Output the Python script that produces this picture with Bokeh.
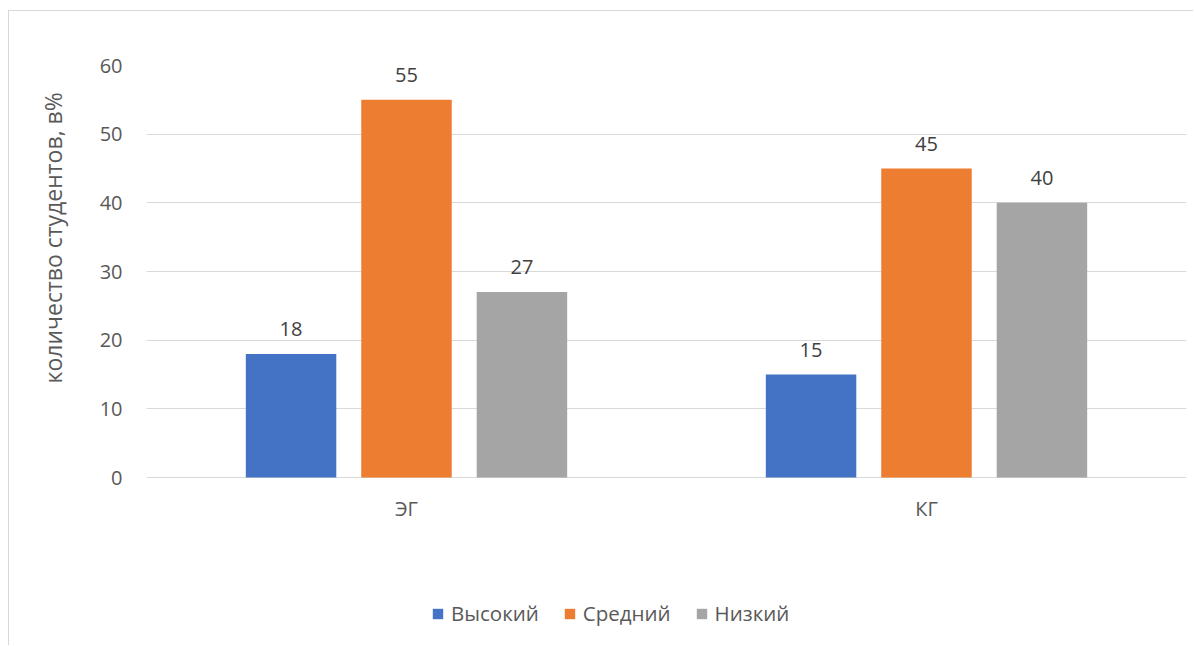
from bokeh.plotting import figure
from bokeh.models import (FactorRange, ColumnDataSource, Legend, LegendItem, LabelSet,
                          FixedTicker, Title)
from bokeh.core.properties import value
from bokeh.transform import dodge
from bokeh.embed import file_html
from bokeh.resources import INLINE

groups = ["ЭГ", "КГ"]
series = ["Высокий", "Средний", "Низкий"]
high = [18, 15]
mid = [55, 45]
low = [27, 40]
y_ticks = [0, 10, 20, 30, 40, 50, 60]
colors = ["#4472C4", "#ED7D31", "#A5A5A5"]
y_title = "количество студентов, в%"

FONT = "Open Sans"
TXT = "#595959"

# frame: 60 at top, 0 at 412 px below; frame extends to the figure bottom
px_per_unit = 412 / 60
y_start = -169 / px_per_unit

p = figure(x_range=FactorRange(factors=groups, range_padding=0), y_range=(y_start, 60),
           width=1185, height=635, output_backend="svg", toolbar_location=None,
           min_border_left=137, min_border_right=8, min_border_top=54, min_border_bottom=0)
p.styles = {"margin-left": "8px", "margin-top": "10px",
            "border-left": "1px solid #d9d9d9", "border-top": "1px solid #d9d9d9"}
p.outline_line_color = None

src = ColumnDataSource(dict(g=groups, high=high, mid=mid, low=low,
                            high_s=[str(v) for v in high], mid_s=[str(v) for v in mid],
                            low_s=[str(v) for v in low]))
offsets = [-0.222, 0.0, 0.222]
cols = ["high", "mid", "low"]
items = []
for name, col, off, c in zip(series, cols, offsets, colors):
    r = p.vbar(x=dodge("g", off, range=p.x_range), top=col, width=0.174, bottom=0,
               source=src, fill_color=c, line_color=None)
    items.append(LegendItem(label=name, renderers=[r]))
    lab = LabelSet(x=dodge("g", off, range=p.x_range), y=col, text=col + "_s", source=src,
                   text_align="center", text_baseline="middle", y_offset=25,
                   text_font=value(FONT), text_font_size=value("20px"), text_color="#404040")
    p.add_layout(lab)

# category labels under the zero line
p.text(x=groups, y=[-4.5] * len(groups), text=groups, text_align="center",
       text_baseline="middle", text_font=value(FONT), text_font_size=value("20px"),
       text_color=TXT)

p.xaxis.visible = False
p.yaxis.ticker = FixedTicker(ticks=y_ticks)
p.ygrid.ticker = FixedTicker(ticks=y_ticks)
p.ygrid.grid_line_color = "#d9d9d9"
p.ygrid.grid_line_width = 1
p.xgrid.grid_line_color = None
p.yaxis.axis_line_color = None
p.yaxis.major_tick_line_color = None
p.yaxis.minor_tick_line_color = None
p.yaxis.major_label_standoff = 18
p.yaxis.major_label_text_font = FONT
p.yaxis.major_label_text_font_size = "20px"
p.yaxis.major_label_text_color = TXT

title = Title(text=y_title, align="left", vertical_align="top", offset=263, standoff=52,
              text_font=FONT, text_font_size="23px", text_font_style="normal",
              text_color=TXT)
p.add_layout(title, "left")

legend = Legend(items=items, orientation="horizontal", location=(285, 19),
                glyph_width=13, glyph_height=13, label_standoff=7, spacing=24,
                padding=0, margin=0, border_line_color=None, background_fill_alpha=0,
                label_text_font=FONT, label_text_font_size="20.5px", label_text_color=TXT)
p.add_layout(legend, "center")

open("out.html", "w").write(file_html(p, INLINE))
